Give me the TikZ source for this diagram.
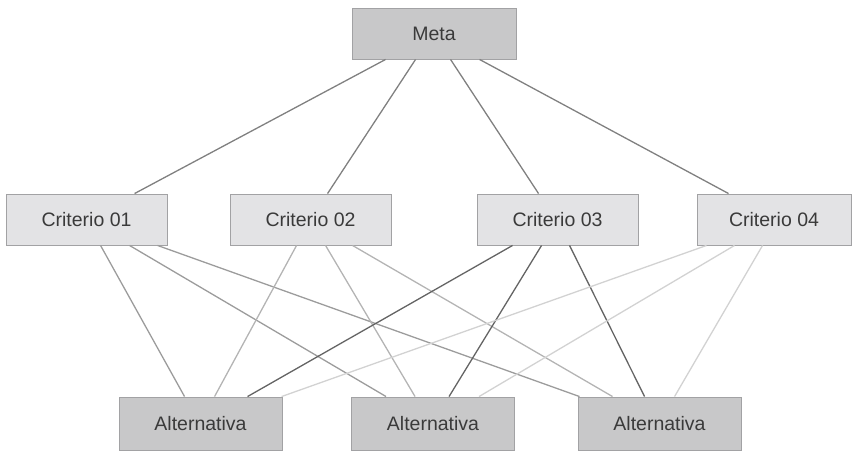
\documentclass[tikz,border=0pt]{standalone}
\usepackage{fontspec}
\setmainfont{Liberation Sans}
\usetikzlibrary{shadows}
\definecolor{boxdark}{HTML}{C8C8C9}
\definecolor{boxlight}{HTML}{E3E3E5}
\definecolor{boxedge}{HTML}{A2A2A4}
\definecolor{txt}{HTML}{3A3A3A}
\definecolor{lmeta}{HTML}{808080}
\definecolor{lone}{HTML}{9C9C9C}
\definecolor{ltwo}{HTML}{B4B4B4}
\definecolor{lthree}{HTML}{646464}
\definecolor{lfour}{HTML}{D2D2D2}
\begin{document}
\begin{tikzpicture}[x=1pt,y=-1pt,
  box/.style={draw=boxedge, line width=0.9pt, minimum height=51pt,
    minimum width=161pt, inner sep=0pt, text=txt,
    font=\fontsize{19.5}{23}\selectfont,
    drop shadow={shadow xshift=0.8pt, shadow yshift=-0.8pt, opacity=0.25}},
  goalbox/.style={box, fill=boxdark, minimum width=164pt},
  critbox/.style={box, fill=boxlight},
  altbox/.style={box, fill=boxdark, minimum width=163pt, minimum height=53pt},
  link/.style={line width=1.3pt}]
\useasboundingbox (0,0) rectangle (852,451);

% goal
\node[goalbox] (m) at (434,33.5) {Meta};
% criteria
\node[critbox] (c1) at (86.5,219.5) {Criterio 01};
\node[critbox] (c2) at (310.5,219.5) {Criterio 02};
\node[critbox] (c3) at (557.5,219.5) {Criterio 03};
\node[critbox, minimum width=154pt] (c4) at (774,219.5) {Criterio 04};
% alternatives
\node[altbox] (a1) at (200.5,423.5) {Alternativa};
\node[altbox] (a2) at (433,423.5) {Alternativa};
\node[altbox] (a3) at (659.5,423.5) {Alternativa};

% goal to criteria
\draw[link, lmeta] ([xshift=34pt]m.south west) -- ([xshift=129pt]c1.north west);
\draw[link, lmeta] ([xshift=64pt]m.south west) -- ([xshift=98pt]c2.north west);
\draw[link, lmeta] ([xshift=99pt]m.south west) -- ([xshift=62pt]c3.north west);
\draw[link, lmeta] ([xshift=128pt]m.south west) -- ([xshift=32pt]c4.north west);

% criterion 01 to alternatives
\draw[link, lone] ([xshift=95pt]c1.south west) -- ([xshift=66pt]a1.north west);
\draw[link, lone] ([xshift=124pt]c1.south west) -- ([xshift=35pt]a2.north west);
\draw[link, lone] ([xshift=152pt]c1.south west) -- ([xshift=2pt]a3.north west);
% criterion 02 to alternatives
\draw[link, ltwo] ([xshift=67pt]c2.south west) -- ([xshift=96pt]a1.north west);
\draw[link, ltwo] ([xshift=96pt]c2.south west) -- ([xshift=64pt]a2.north west);
\draw[link, ltwo] ([xshift=123pt]c2.south west) -- ([xshift=35pt]a3.north west);
% criterion 03 to alternatives
\draw[link, lthree] ([xshift=36pt]c3.south west) -- ([xshift=129pt]a1.north west);
\draw[link, lthree] ([xshift=65pt]c3.south west) -- ([xshift=98pt]a2.north west);
\draw[link, lthree] ([xshift=93pt]c3.south west) -- ([xshift=67pt]a3.north west);
% criterion 04 to alternatives
\draw[link, lfour] ([xshift=10pt]c4.south west) -- ([xshift=163pt]a1.north west);
\draw[link, lfour] ([xshift=38pt]c4.south west) -- ([xshift=128pt]a2.north west);
\draw[link, lfour] ([xshift=66pt]c4.south west) -- ([xshift=97pt]a3.north west);
\end{tikzpicture}
\end{document}
